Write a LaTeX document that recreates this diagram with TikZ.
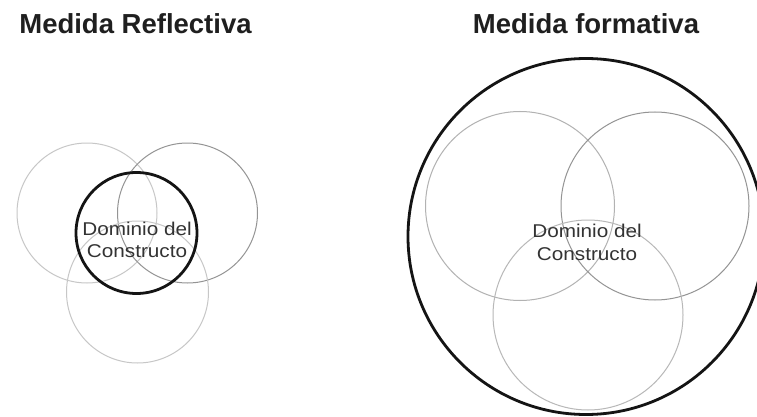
\documentclass[tikz,border=0pt]{standalone}
\usepackage{fontspec}
\setmainfont{Liberation Sans}
\newfontfamily\lblfont[FakeStretch=1.12]{Liberation Sans}
\begin{document}
\begin{tikzpicture}[x=1pt,y=-1pt,
  title/.style={font=\fontsize{27.5}{30}\selectfont\bfseries, text=black!88, anchor=base, inner sep=0},
  thin/.style={circle, draw=#1, line width=1pt, inner sep=0},
  bold/.style={circle, draw=black!92, line width=2.8pt, inner sep=0},
  lbl/.style={font=\lblfont\fontsize{18.5}{22.5}\selectfont, text=black!80, align=center, inner sep=0}]
\useasboundingbox (0,0) rectangle (757,417);
\clip (0,0) rectangle (757,417);
\fill[white] (0,0) rectangle (757,417);

% Reflective measurement
\node[title] (t1) at (135.5,34) {Medida Reflectiva};
\node[thin=black!22, minimum size=140] (r1) at (87,213) {};
\node[thin=black!42, minimum size=140] (r2) at (187.5,213) {};
\node[thin=black!22, minimum size=142] (r3) at (137.5,292) {};
\node[bold, minimum size=121] (rc) at (136.5,233) {};
\node[lbl] (rl) at (137,240) {Dominio del\\Constructo};

% Formative measurement
\node[title] (t2) at (586,34) {Medida formativa};
\node[bold, minimum size=356] (fc) at (586,236.5) {};
\node[thin=black!30, minimum size=189] (f1) at (520,206) {};
\node[thin=black!42, minimum size=188] (f2) at (655,206) {};
\node[thin=black!28, minimum size=190] (f3) at (588,315) {};
\node[lbl] (fl) at (587,242.5) {Dominio del\\Constructo};
\end{tikzpicture}
\end{document}
